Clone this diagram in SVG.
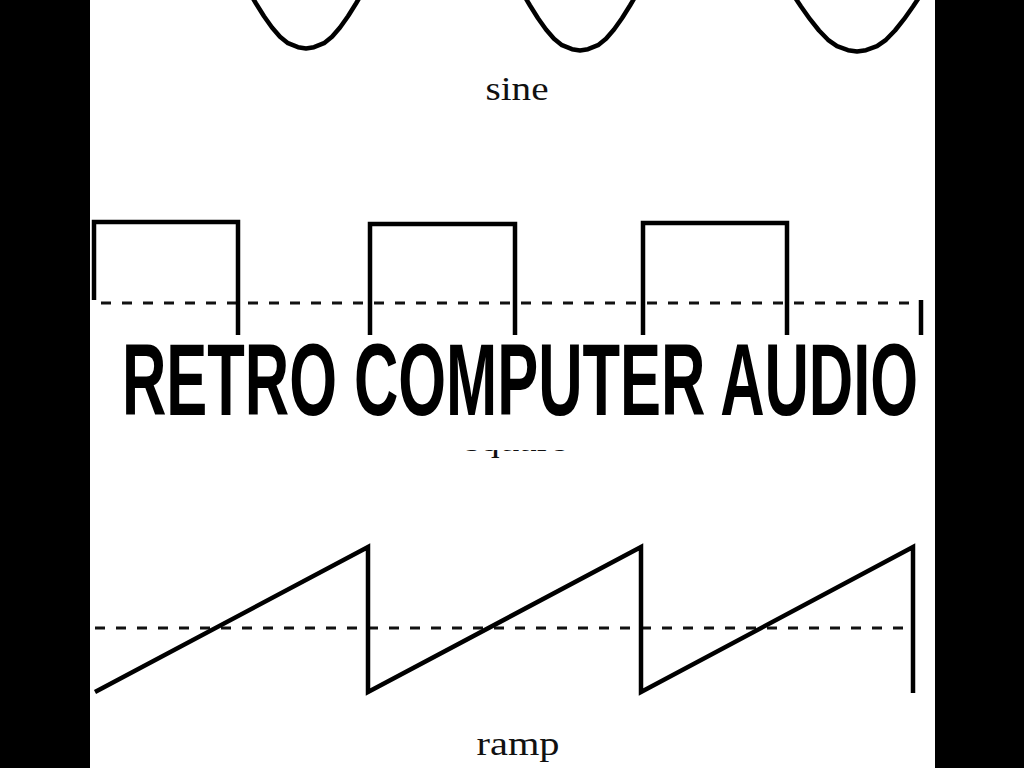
<svg xmlns="http://www.w3.org/2000/svg" width="1024" height="768" viewBox="0 0 1024 768">
  <style>
    .wave { fill: none; stroke: #000; stroke-width: 4.5; stroke-linejoin: miter; stroke-linecap: butt; }
    .sine { fill: none; stroke: #000; stroke-width: 4.5; stroke-linejoin: round; }
    .axis { fill: none; stroke: #111; stroke-width: 3; stroke-dasharray: 10 11; }
    .label { font-family: "Liberation Serif", "Times New Roman", serif; font-size: 34px; fill: #111; }
    .title { font-family: "Liberation Sans", Arial, sans-serif; font-weight: bold; font-size: 60px; fill: #000; }
  </style>
  <defs>
    <clipPath id="belowTitle">
      <rect x="90" y="450" width="845" height="30"/>
    </clipPath>
  </defs>
  <rect x="0" y="0" width="1024" height="768" fill="#ffffff"/>

  <g id="sine-wave">
    <polyline class="sine" points="248,-10 256,3.5 264,16.2 272,27.5 280,36.8 288,43.2 298,47.2 306,48.5 314,47.2 324,43.2 332,36.8 340,27.5 348,16.2 356,3.5 364,-10"/>
    <polyline class="sine" points="522,-8 530,5.5 538,18.2 546,29.5 554,38.8 562,45.2 572,49.2 580,50.5 588,49.2 598,45.2 606,38.8 614,29.5 622,18.2 630,5.5 638,-8"/>
    <polyline class="sine" points="792,-7 801,6.5 810,19.2 819,30.5 828,39.8 837,46.2 848,50.2 857,51.5 866,50.2 877,46.2 886,39.8 895,30.5 904,19.2 913,6.5 922,-7"/>
    <text class="label" x="517" y="100" text-anchor="middle" textLength="63" lengthAdjust="spacingAndGlyphs">sine</text>
  </g>

  <g id="square-wave">
    <line class="axis" x1="101" y1="303" x2="918" y2="303"/>
    <path class="wave" d="M94,300 V222 H238 V380 H370 V224 H515 V380 H643 V223 H787 V380 H921 V300"/>
    <text class="label" x="516" y="451" text-anchor="middle" textLength="102" lengthAdjust="spacingAndGlyphs" clip-path="url(#belowTitle)">square</text>
  </g>

  <g id="title">
    <rect x="90" y="335" width="845" height="115" fill="#ffffff"/>
    <text class="title" x="122" y="244.1" transform="scale(1 1.7)" textLength="796" lengthAdjust="spacingAndGlyphs">RETRO COMPUTER AUDIO</text>
  </g>

  <g id="ramp-wave">
    <line class="axis" x1="95" y1="628" x2="914" y2="628"/>
    <path class="wave" d="M95,692 L368,547 V692 L641,547 V692 L913,547 V693"/>
    <text class="label" x="518" y="755" text-anchor="middle" textLength="83" lengthAdjust="spacingAndGlyphs">ramp</text>
  </g>

  <g id="frame">
    <rect x="0" y="0" width="90" height="768" fill="#000"/>
    <rect x="935" y="0" width="89" height="768" fill="#000"/>
  </g>
</svg>
